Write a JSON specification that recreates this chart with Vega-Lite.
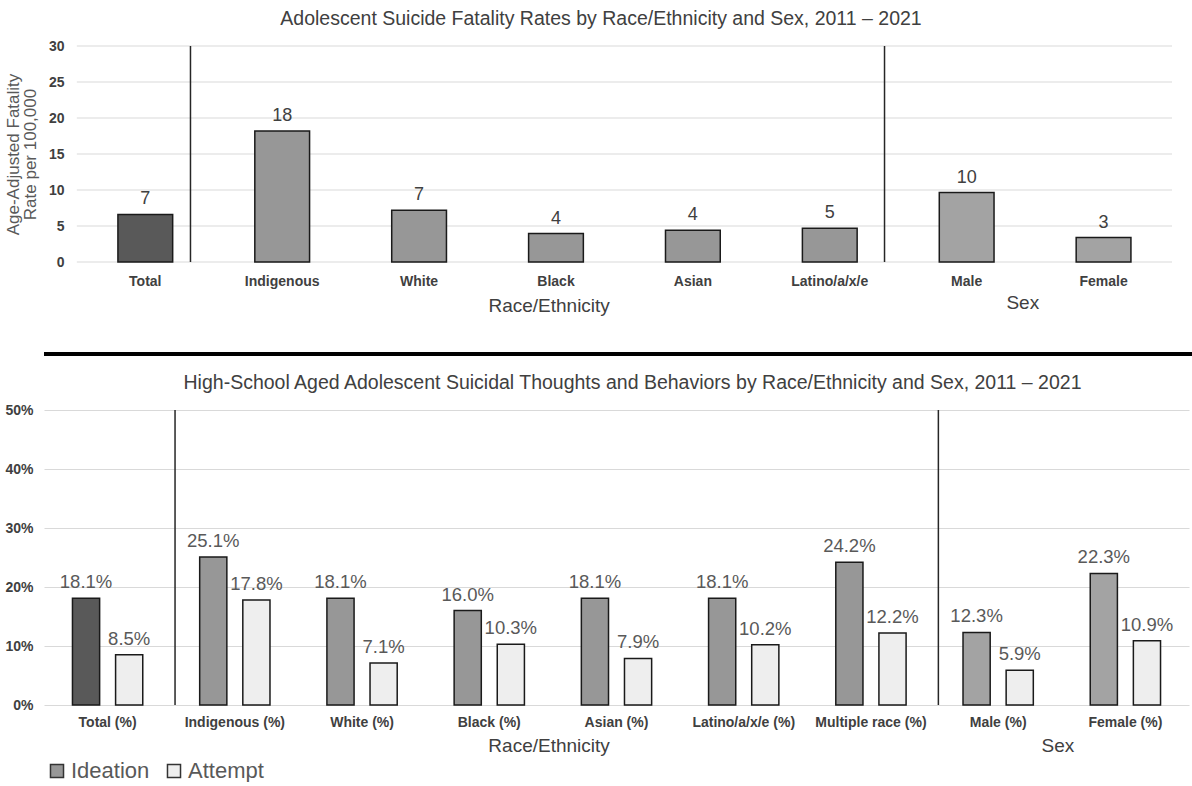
{
  "$schema": "https://vega.github.io/schema/vega-lite/v6.json",
  "background": "white",
  "padding": {"left": 4, "top": 8, "right": 0, "bottom": 0},
  "spacing": 16,
  "config": {
    "view": {"stroke": null},
    "font": "Liberation Sans",
    "axis": {"gridColor": "#d9d9d9", "gridWidth": 1.2, "domain": false, "ticks": false, "labelFont": "Liberation Sans", "labelOverlap": false}
  },
  "vconcat": [
    {
      "width": 1128,
      "height": 216,
      "title": {"text": "Adolescent Suicide Fatality Rates by Race/Ethnicity and Sex, 2011 – 2021", "fontSize": 19.5, "fontWeight": "normal", "color": "#404040", "frame": "group", "anchor": "middle", "dx": -7, "offset": 10},
      "data": {"values": [
        {"cat": "Total", "group": "Total", "value": 6.6, "label": "7"},
        {"cat": "Indigenous", "group": "Race", "value": 18.2, "label": "18"},
        {"cat": "White", "group": "Race", "value": 7.2, "label": "7"},
        {"cat": "Black", "group": "Race", "value": 3.95, "label": "4"},
        {"cat": "Asian", "group": "Race", "value": 4.4, "label": "4"},
        {"cat": "Latino/a/x/e", "group": "Race", "value": 4.7, "label": "5"},
        {"cat": "Male", "group": "Sex", "value": 9.65, "label": "10"},
        {"cat": "Female", "group": "Sex", "value": 3.4, "label": "3"}
      ]},
      "layer": [
        {
          "data": {"values": [
            {"g": 0, "a": "Total", "b": "Female"}, {"g": 5, "a": "Total", "b": "Female"}, {"g": 10, "a": "Total", "b": "Female"},
            {"g": 15, "a": "Total", "b": "Female"}, {"g": 20, "a": "Total", "b": "Female"}, {"g": 25, "a": "Total", "b": "Female"}, {"g": 30, "a": "Total", "b": "Female"}
          ]},
          "mark": {"type": "rule", "color": "#d9d9d9", "strokeWidth": 1.2},
          "encoding": {
            "x": {"field": "a", "type": "nominal", "title": null, "bandPosition": 0, "scale": {"domain": ["Total", "Indigenous", "White", "Black", "Asian", "Latino/a/x/e", "Male", "Female"], "paddingInner": 0, "paddingOuter": 0.12, "align": 1},
              "axis": {"title": null, "bandPosition": 0.5, "labelAngle": 0, "labelFontSize": 14, "labelFontWeight": "bold", "labelColor": "#404040", "labelPadding": 12, "grid": false}},
            "x2": {"field": "b", "bandPosition": 1},
            "y": {"field": "g", "type": "quantitative", "title": ["Age-Adjusted Fatality", "Rate per 100,000"], "scale": {"domain": [0, 30], "nice": false},
              "axis": {"values": [0, 5, 10, 15, 20, 25, 30], "grid": false, "offset": -33, "titleFontSize": 17, "titleFontWeight": "normal", "titleColor": "#595959", "titleLineHeight": 17, "titlePadding": 9, "labelFontSize": 14, "labelFontWeight": "bold", "labelColor": "#404040", "labelPadding": 13}}
          }
        },
        {
          "mark": {"type": "bar", "width": {"band": 0.4}, "stroke": "#1a1a1a", "strokeWidth": 1.5},
          "encoding": {
            "x": {"field": "cat", "type": "nominal", "title": null,
              "axis": {"title": null, "bandPosition": 0.5, "labelAngle": 0, "labelFontSize": 14, "labelFontWeight": "bold", "labelColor": "#404040", "labelPadding": 12, "grid": false}},
            "y": {"field": "value", "type": "quantitative", "title": ["Age-Adjusted Fatality", "Rate per 100,000"],
              "axis": {"values": [0, 5, 10, 15, 20, 25, 30], "grid": false, "offset": -33, "titleFontSize": 17, "titleFontWeight": "normal", "titleColor": "#595959", "titleLineHeight": 17, "titlePadding": 9, "labelFontSize": 14, "labelFontWeight": "bold", "labelColor": "#404040", "labelPadding": 13}},
            "fill": {"field": "group", "type": "nominal", "scale": {"domain": ["Total", "Race", "Sex"], "range": ["#595959", "#979797", "#a3a3a3"]}, "legend": null}
          }
        },
        {
          "mark": {"type": "text", "fontSize": 18, "color": "#404040", "baseline": "bottom", "dy": -6},
          "encoding": {
            "x": {"field": "cat", "type": "nominal", "title": null,
              "axis": {"title": null, "bandPosition": 0.5, "labelAngle": 0, "labelFontSize": 14, "labelFontWeight": "bold", "labelColor": "#404040", "labelPadding": 12, "grid": false}},
            "y": {"field": "value", "type": "quantitative", "title": ["Age-Adjusted Fatality", "Rate per 100,000"],
              "axis": {"values": [0, 5, 10, 15, 20, 25, 30], "grid": false, "offset": -33, "titleFontSize": 17, "titleFontWeight": "normal", "titleColor": "#595959", "titleLineHeight": 17, "titlePadding": 9, "labelFontSize": 14, "labelFontWeight": "bold", "labelColor": "#404040", "labelPadding": 13}},
            "text": {"field": "label"}
          }
        },
        {
          "data": {"values": [{"cat": "Total"}]},
          "mark": {"type": "rule", "color": "#262626", "strokeWidth": 1.5},
          "encoding": {"x": {"field": "cat", "type": "nominal", "title": null, "bandPosition": 0.83,
              "axis": {"title": null, "bandPosition": 0.5, "labelAngle": 0, "labelFontSize": 14, "labelFontWeight": "bold", "labelColor": "#404040", "labelPadding": 12, "grid": false}}}
        },
        {
          "data": {"values": [{"cat": "Latino/a/x/e"}]},
          "mark": {"type": "rule", "color": "#262626", "strokeWidth": 1.5},
          "encoding": {"x": {"field": "cat", "type": "nominal", "title": null, "bandPosition": 0.9,
              "axis": {"title": null, "bandPosition": 0.5, "labelAngle": 0, "labelFontSize": 14, "labelFontWeight": "bold", "labelColor": "#404040", "labelPadding": 12, "grid": false}}}
        },
        {
          "data": {"values": [{"cat": "Black", "t": "Race/Ethnicity"}]},
          "mark": {"type": "text", "fontSize": 19, "color": "#404040", "baseline": "middle", "dy": 44},
          "encoding": {
            "x": {"field": "cat", "type": "nominal", "title": null, "bandPosition": 0.45,
              "axis": {"title": null, "bandPosition": 0.5, "labelAngle": 0, "labelFontSize": 14, "labelFontWeight": "bold", "labelColor": "#404040", "labelPadding": 12, "grid": false}},
            "y": {"datum": 0, "type": "quantitative", "title": ["Age-Adjusted Fatality", "Rate per 100,000"],
              "axis": {"values": [0, 5, 10, 15, 20, 25, 30], "grid": false, "offset": -33, "titleFontSize": 17, "titleFontWeight": "normal", "titleColor": "#595959", "titleLineHeight": 17, "titlePadding": 9, "labelFontSize": 14, "labelFontWeight": "bold", "labelColor": "#404040", "labelPadding": 13}},
            "text": {"field": "t"}}
        },
        {
          "data": {"values": [{"cat": "Male", "t": "Sex"}]},
          "mark": {"type": "text", "fontSize": 19, "color": "#404040", "baseline": "middle", "dy": 41},
          "encoding": {
            "x": {"field": "cat", "type": "nominal", "title": null, "bandPosition": 0.91,
              "axis": {"title": null, "bandPosition": 0.5, "labelAngle": 0, "labelFontSize": 14, "labelFontWeight": "bold", "labelColor": "#404040", "labelPadding": 12, "grid": false}},
            "y": {"datum": 0, "type": "quantitative", "title": ["Age-Adjusted Fatality", "Rate per 100,000"],
              "axis": {"values": [0, 5, 10, 15, 20, 25, 30], "grid": false, "offset": -33, "titleFontSize": 17, "titleFontWeight": "normal", "titleColor": "#595959", "titleLineHeight": 17, "titlePadding": 9, "labelFontSize": 14, "labelFontWeight": "bold", "labelColor": "#404040", "labelPadding": 13}},
            "text": {"field": "t"}}
        }
      ]
    },
    {
      "width": 1192,
      "height": 22,
      "data": {"values": [{"a": 1}]},
      "mark": {"type": "rule", "color": "black", "strokeWidth": 4},
      "encoding": {
        "x": {"datum": 0, "type": "quantitative", "scale": {"domain": [0, 1], "nice": false}, "axis": null},
        "x2": {"datum": 1},
        "y": {"datum": 0, "type": "quantitative", "scale": {"domain": [0, 1], "nice": false}, "axis": null}
      }
    },
    {
      "width": 1145,
      "height": 295,
      "title": {"text": "High-School Aged Adolescent Suicidal Thoughts and Behaviors by Race/Ethnicity and Sex, 2011 – 2021", "fontSize": 19.5, "fontWeight": "normal", "color": "#404040", "frame": "group", "anchor": "middle", "dx": 16, "offset": 10},
      "data": {"values": [
        {"cat": "Total (%)", "group": "Total", "measure": "Ideation", "value": 18.1, "label": "18.1%"},
        {"cat": "Total (%)", "group": "Total", "measure": "Attempt", "value": 8.5, "label": "8.5%"},
        {"cat": "Indigenous (%)", "group": "Race", "measure": "Ideation", "value": 25.1, "label": "25.1%"},
        {"cat": "Indigenous (%)", "group": "Race", "measure": "Attempt", "value": 17.8, "label": "17.8%"},
        {"cat": "White (%)", "group": "Race", "measure": "Ideation", "value": 18.1, "label": "18.1%"},
        {"cat": "White (%)", "group": "Race", "measure": "Attempt", "value": 7.1, "label": "7.1%"},
        {"cat": "Black (%)", "group": "Race", "measure": "Ideation", "value": 16.0, "label": "16.0%"},
        {"cat": "Black (%)", "group": "Race", "measure": "Attempt", "value": 10.3, "label": "10.3%"},
        {"cat": "Asian (%)", "group": "Race", "measure": "Ideation", "value": 18.1, "label": "18.1%"},
        {"cat": "Asian (%)", "group": "Race", "measure": "Attempt", "value": 7.9, "label": "7.9%"},
        {"cat": "Latino/a/x/e (%)", "group": "Race", "measure": "Ideation", "value": 18.1, "label": "18.1%"},
        {"cat": "Latino/a/x/e (%)", "group": "Race", "measure": "Attempt", "value": 10.2, "label": "10.2%"},
        {"cat": "Multiple race (%)", "group": "Race", "measure": "Ideation", "value": 24.2, "label": "24.2%"},
        {"cat": "Multiple race (%)", "group": "Race", "measure": "Attempt", "value": 12.2, "label": "12.2%"},
        {"cat": "Male (%)", "group": "Sex", "measure": "Ideation", "value": 12.3, "label": "12.3%"},
        {"cat": "Male (%)", "group": "Sex", "measure": "Attempt", "value": 5.9, "label": "5.9%"},
        {"cat": "Female (%)", "group": "Sex", "measure": "Ideation", "value": 22.3, "label": "22.3%"},
        {"cat": "Female (%)", "group": "Sex", "measure": "Attempt", "value": 10.9, "label": "10.9%"}
      ]},
      "layer": [
        {
          "mark": {"type": "bar", "stroke": "#1a1a1a", "strokeWidth": 1.5},
          "encoding": {
            "x": {"field": "cat", "type": "nominal", "scale": {"domain": ["Total (%)", "Indigenous (%)", "White (%)", "Black (%)", "Asian (%)", "Latino/a/x/e (%)", "Multiple race (%)", "Male (%)", "Female (%)"], "paddingInner": 0, "paddingOuter": 0},
              "axis": {"title": null, "labelAngle": 0, "labelFontSize": 14, "labelFontWeight": "bold", "labelColor": "#404040", "labelPadding": 10, "grid": false}},
            "xOffset": {"field": "measure", "type": "nominal", "scale": {"domain": ["Ideation", "Attempt"], "paddingInner": 0.37, "paddingOuter": 0.66}},
            "y": {"field": "value", "type": "quantitative", "scale": {"domain": [0, 50], "nice": false},
              "axis": {"values": [0, 10, 20, 30, 40, 50], "labelExpr": "datum.value + '%'", "title": null, "labelFontSize": 14, "labelFontWeight": "bold", "labelColor": "#404040", "labelPadding": 11}},
            "fill": {
              "condition": [
                {"test": "datum.measure === 'Ideation' && datum.group === 'Total'", "value": "#595959"},
                {"test": "datum.measure === 'Ideation' && datum.group === 'Sex'", "value": "#a3a3a3"}
              ],
              "field": "measure", "type": "nominal",
              "scale": {"domain": ["Ideation", "Attempt"], "range": ["#979797", "#eeeeee"]},
              "legend": {"title": null, "orient": "none", "legendX": 2, "legendY": 350, "direction": "horizontal", "symbolType": "square", "symbolSize": 170, "symbolStrokeColor": "#333333", "symbolStrokeWidth": 1.5, "labelFontSize": 22, "labelColor": "#595959", "labelOffset": 3, "columnPadding": 13, "labelFont": "Liberation Sans"}
            }
          }
        },
        {
          "mark": {"type": "text", "fontSize": 18.5, "color": "#595959", "baseline": "bottom", "dy": -6},
          "encoding": {
            "x": {"field": "cat", "type": "nominal"},
            "xOffset": {"field": "measure", "type": "nominal"},
            "y": {"field": "value", "type": "quantitative"},
            "text": {"field": "label"}
          }
        },
        {
          "data": {"values": [{"cat": "Indigenous (%)"}, {"cat": "Male (%)"}]},
          "mark": {"type": "rule", "color": "#262626", "strokeWidth": 1.5},
          "encoding": {"x": {"field": "cat", "type": "nominal", "bandPosition": 0.03}}
        },
        {
          "data": {"values": [{"cat": "Black (%)", "t": "Race/Ethnicity"}, {"cat": "Male (%)", "t": "Sex"}]},
          "mark": {"type": "text", "fontSize": 19, "color": "#404040", "baseline": "middle", "dy": 41},
          "encoding": {"x": {"field": "cat", "type": "nominal", "bandPosition": 0.97}, "y": {"datum": 0, "type": "quantitative"}, "text": {"field": "t"}}
        }
      ]
    }
  ],
  "resolve": {"scale": {"x": "independent", "y": "independent", "fill": "independent"}}
}
